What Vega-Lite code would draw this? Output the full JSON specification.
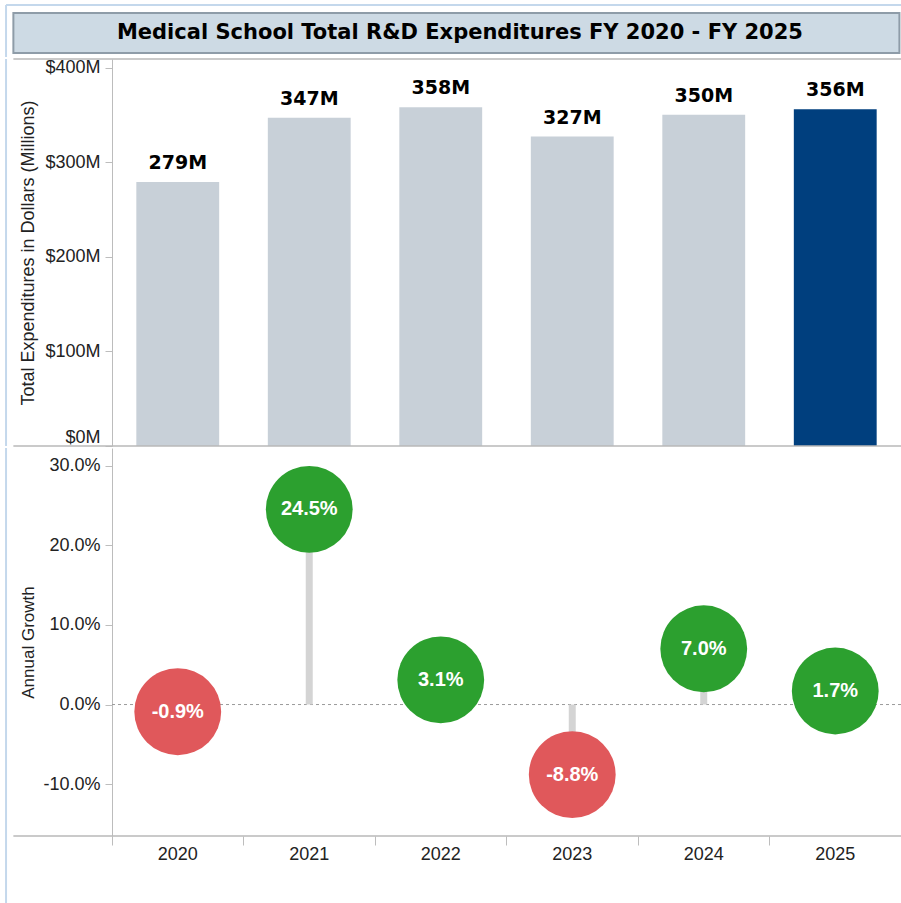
{
  "$schema": "https://vega.github.io/schema/vega-lite/v6.json",
  "padding": {"left": 5, "top": 4, "right": 0, "bottom": 0},
  "background": "white",
  "config": {
    "font": "Liberation Sans",
    "view": {"stroke": null},
    "locale": {"number": {"decimal": ".", "thousands": ",", "grouping": [3], "currency": ["$", ""], "minus": "-"}},
    "axis": {"labelFont": "Liberation Sans", "titleFont": "Liberation Sans", "labelColor": "#222222", "titleColor": "#222222", "domainColor": "#bcbcbc", "tickColor": "#bdbdbd", "grid": false}
  },
  "datasets": {
    "d": [
      {"year": "2020", "expend": 279, "growth": -0.009},
      {"year": "2021", "expend": 347, "growth": 0.245},
      {"year": "2022", "expend": 358, "growth": 0.031},
      {"year": "2023", "expend": 327, "growth": -0.088},
      {"year": "2024", "expend": 350, "growth": 0.070},
      {"year": "2025", "expend": 356, "growth": 0.017}
    ]
  },
  "spacing": 0,
  "vconcat": [
    {
      "width": 789,
      "height": 40,
      "layer": [
        {
          "data": {"values": [{"x0": -0.125, "x1": 0.998, "y0": 0, "y1": 1}]},
          "mark": {"type": "rect", "fill": "#cddae4", "stroke": "#8e9ca8", "strokeWidth": 2},
          "encoding": {
            "x": {"field": "x0", "type": "quantitative", "scale": {"domain": [0, 1], "nice": false, "zero": false}, "axis": null},
            "x2": {"field": "x1"},
            "y": {"field": "y0", "type": "quantitative", "scale": {"domain": [0, 1], "nice": false, "zero": false}, "axis": null},
            "y2": {"field": "y1"}
          }
        },
        {
          "data": {"values": [{"x0": -0.1343, "x1": 1.0, "y0": 1.2, "y1": 1.2}, {"x0": -0.1343, "x1": -0.1343, "y0": 1.2, "y1": -0.1}]},
          "mark": {"type": "rule", "color": "#c4d8ec", "strokeWidth": 2},
          "encoding": {
            "x": {"field": "x0", "type": "quantitative"},
            "x2": {"field": "x1"},
            "y": {"field": "y0", "type": "quantitative"},
            "y2": {"field": "y1"}
          }
        },
        {
          "data": {"values": [{"xm": 0.441, "ym": 0.5, "t": "Medical School Total R&D Expenditures FY 2020 - FY 2025"}]},
          "mark": {"type": "text", "font": "DejaVu Sans", "fontWeight": "bold", "fontSize": 21, "color": "#000000"},
          "encoding": {
            "x": {"field": "xm", "type": "quantitative"},
            "y": {"field": "ym", "type": "quantitative"},
            "text": {"field": "t"}
          }
        }
      ]
    },
    {
      "spacing": 0,
      "vconcat": [
        {
          "width": 789,
          "height": 387,
          "resolve": {"scale": {"x": "independent"}, "axis": {"x": "independent"}},
          "layer": [
            {
              "data": {"name": "d"},
              "transform": [{"calculate": "datum.expend + 'M'", "as": "label"}],
              "layer": [
                {
                  "mark": {"type": "bar"},
                  "encoding": {
                    "x": {"field": "year", "type": "nominal", "scale": {"paddingInner": 0.37, "paddingOuter": 0.185}, "axis": null},
                    "y": {"field": "expend", "type": "quantitative", "scale": {"domain": [0, 409], "nice": false},
                          "axis": {"values": [0, 100, 200, 300, 400], "labelExpr": "'$' + datum.value + 'M'",
                                   "title": "Total Expenditures in Dollars (Millions)", "titleFontSize": 18, "titleFontWeight": "normal",
                                   "labelFontSize": 18, "tickSize": 7, "labelPadding": 5, "minExtent": 70, "maxExtent": 70,
                                   "titlePadding": 5, "labelFlush": true}},
                    "color": {"condition": {"test": "datum.year === '2025'", "value": "#003f7e"}, "value": "#c8d0d8"}
                  }
                },
                {
                  "mark": {"type": "text", "font": "DejaVu Sans", "fontWeight": "bold", "fontSize": 19, "baseline": "alphabetic", "dy": -13, "color": "#000000"},
                  "encoding": {
                    "x": {"field": "year", "type": "nominal", "axis": null},
                    "y": {"field": "expend", "type": "quantitative"},
                    "text": {"field": "label"}
                  }
                }
              ]
            },
            {
              "layer": [
                {
                  "data": {"values": [{"a": -0.125, "b": 1.0, "expend": 0}, {"a": -0.125, "b": 1.0, "expend": 409}]},
                  "mark": {"type": "rule", "color": "#b8b8b8", "strokeWidth": 1.5},
                  "encoding": {
                    "x": {"field": "a", "type": "quantitative", "scale": {"domain": [0, 1], "nice": false, "zero": false}, "axis": null},
                    "x2": {"field": "b"},
                    "y": {"field": "expend", "type": "quantitative"}
                  }
                },
                {
                  "data": {"values": [{"a": -0.1343, "expend": 409, "e2": 0}]},
                  "mark": {"type": "rule", "color": "#c4d8ec", "strokeWidth": 2},
                  "encoding": {
                    "x": {"field": "a", "type": "quantitative", "axis": null},
                    "y": {"field": "expend", "type": "quantitative"},
                    "y2": {"field": "e2"}
                  }
                }
              ]
            }
          ]
        },
        {
          "width": 789,
          "height": 388,
          "resolve": {"scale": {"x": "independent"}, "axis": {"x": "independent"}},
          "layer": [
            {
              "data": {"values": [{"growth": 0}]},
              "mark": {"type": "rule", "color": "#9a9a9a", "strokeDash": [3, 3], "strokeWidth": 1},
              "encoding": {"y": {"field": "growth", "type": "quantitative"}}
            },
            {
              "data": {"name": "d"},
              "layer": [
                {
                  "mark": {"type": "rule", "color": "#d4d4d4", "strokeWidth": 7},
                  "encoding": {
                    "x": {"field": "year", "type": "nominal", "scale": {"paddingInner": 0, "paddingOuter": 0},
                          "axis": {"orient": "bottom", "title": null, "labelAngle": 0, "labelFontSize": 18, "tickSize": 9, "labelPadding": 0,
                                   "bandPosition": 0, "domain": false}},
                    "y": {"field": "growth", "type": "quantitative"},
                    "y2": {"datum": 0}
                  }
                },
                {
                  "mark": {"type": "circle", "size": 7540, "opacity": 1},
                  "encoding": {
                    "x": {"field": "year", "type": "nominal"},
                    "y": {"field": "growth", "type": "quantitative"},
                    "color": {"condition": {"test": "datum.growth < 0", "value": "#e0585b"}, "value": "#2ca02f"}
                  }
                },
                {
                  "mark": {"type": "text", "font": "Liberation Sans", "fontWeight": "bold", "fontSize": 20, "color": "#ffffff", "baseline": "middle"},
                  "encoding": {
                    "x": {"field": "year", "type": "nominal"},
                    "y": {"field": "growth", "type": "quantitative"},
                    "text": {"field": "growth", "type": "quantitative", "format": ".1%"}
                  }
                }
              ]
            },
            {
              "layer": [
                {
                  "data": {"values": [{"a": -0.125, "b": 1.0, "growth": -0.165}]},
                  "mark": {"type": "rule", "color": "#b8b8b8", "strokeWidth": 1.5},
                  "encoding": {
                    "x": {"field": "a", "type": "quantitative", "scale": {"domain": [0, 1], "nice": false, "zero": false}, "axis": null},
                    "x2": {"field": "b"},
                    "y": {"field": "growth", "type": "quantitative"}
                  }
                },
                {
                  "data": {"values": [{"a": -0.1343, "growth": 0.322, "g2": -0.25}]},
                  "mark": {"type": "rule", "color": "#c4d8ec", "strokeWidth": 2},
                  "encoding": {
                    "x": {"field": "a", "type": "quantitative", "axis": null},
                    "y": {"field": "growth", "type": "quantitative"},
                    "y2": {"field": "g2"}
                  }
                }
              ]
            }
          ],
          "encoding": {
            "y": {"type": "quantitative", "scale": {"domain": [-0.165, 0.322], "nice": false, "zero": false},
                  "axis": {"values": [-0.1, 0, 0.1, 0.2, 0.3], "format": ".1%", "title": "Annual Growth",
                           "titleFontSize": 17, "titleFontWeight": "normal", "labelFontSize": 18, "tickSize": 7,
                           "labelPadding": 5, "minExtent": 70, "maxExtent": 70, "titlePadding": 5}}
          }
        }
      ]
    }
  ]
}
